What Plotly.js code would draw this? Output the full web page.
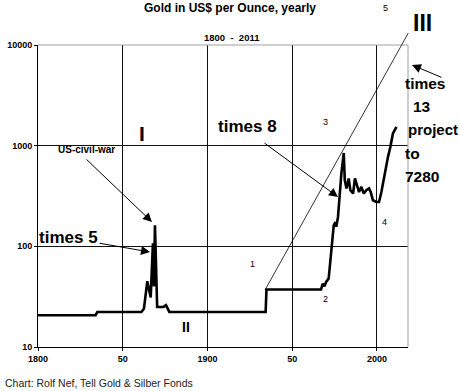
<!DOCTYPE html>
<html>
<head>
<meta charset="utf-8">
<script src="https://cdn.plot.ly/plotly-3.0.1.min.js"></script>
<style>html,body{margin:0;padding:0;background:#fff;}#chart{width:460px;height:391px;}</style>
</head>
<body>
<div id="chart"></div>
<script>
// ---- data ----
const years = [1800, 1834, 1835, 1861, 1862.5, 1864.5, 1866.5, 1867.8, 1868.4, 1869, 1870.3, 1874, 1875.5, 1877.5,
  1934.3, 1934.8, 1967, 1968, 1969, 1970, 1971.5, 1973, 1973.7, 1974.5, 1975.5, 1976, 1977, 1978, 1979, 1980.4,
  1981, 1982, 1983.3, 1984.3, 1985.9, 1987, 1988.2, 1989.4, 1990.8, 1992.2, 1993.7, 1995.3, 1996.3, 1997.6,
  1999.6, 2001.2, 2002.6, 2004.5, 2006.5, 2007.9, 2009.4, 2011.5];
const price = [20.7, 20.7, 22.3, 22.3, 24, 45, 31, 107, 40, 162, 25, 25, 26, 22.3,
  22.3, 37.3, 37.3, 42.6, 40, 44.3, 47.8, 91, 115, 162, 174, 156, 196, 335, 530, 847,
  454, 376, 472, 361, 335, 472, 390, 346, 390, 335, 361, 376, 346, 287,
  276, 276, 346, 530, 774, 973, 1321, 1538];
const xTickVals = [1800, 1850, 1900, 1950, 2000];
const xTickText = ['1800', '50', '1900', '50', '2000'];
const yTickVals = [10, 100, 1000, 10000];
const yTickText = ['10', '100', '1000', '10000'];

// ---- layout helpers (pixel -> paper) ----
const L = 38, R = 408, T = 45, B = 347;
const px = x => (x - L) / (R - L);
const py = y => (B - y) / (B - T);
const FONT = 'Liberation Sans, Arial, sans-serif';

function txt(text, x, y, size, bold, xanchor, color) {
  return {text: text, xref: 'paper', yref: 'paper', x: px(x), y: py(y), showarrow: false,
    xanchor: xanchor || 'center', yanchor: 'middle',
    font: {family: FONT, size: size, color: color || '#000', weight: bold ? 'bold' : 'normal'}};
}
function arrow(hx, hy, tx, ty) {
  return {text: '', xref: 'paper', yref: 'paper', x: px(hx), y: py(hy), ax: tx - hx, ay: ty - hy,
    showarrow: true, arrowhead: 2, arrowsize: 1.8, arrowwidth: 1, arrowcolor: '#000', standoff: 0};
}

const trace = {
  x: years, y: price, type: 'scatter', mode: 'lines',
  line: {color: '#000', width: 2.6, shape: 'linear'}, hoverinfo: 'skip'
};

const layout = {
  width: 460, height: 391,
  margin: {l: L, r: 460 - R, t: T, b: 391 - B},
  paper_bgcolor: '#fff', plot_bgcolor: '#fff',
  showlegend: false,
  title: {text: 'Gold in US$ per Ounce, yearly', xref: 'container', yref: 'container',
    x: 0.5, y: 1 - 8 / 391, xanchor: 'center', yanchor: 'middle',
    font: {family: FONT, size: 12, color: '#000', weight: 'bold'}},
  xaxis: {
    range: [1800, 2018.3], tickvals: xTickVals, ticktext: xTickText,
    ticks: 'outside', ticklen: 3, tickcolor: '#000', tickwidth: 1,
    showline: true, linecolor: '#000', linewidth: 1,
    showgrid: true, gridcolor: '#111', gridwidth: 1, zeroline: false,
    tickfont: {family: FONT, size: 9, color: '#000', weight: 'bold'}
  },
  yaxis: {
    type: 'log', range: [1, 4], tickvals: yTickVals, ticktext: yTickText,
    ticks: 'outside', ticklen: 3, tickcolor: '#000', tickwidth: 1,
    showline: true, linecolor: '#000', linewidth: 1,
    showgrid: true, gridcolor: '#111', gridwidth: 1, zeroline: false,
    tickfont: {family: FONT, size: 9, color: '#000', weight: 'bold'}
  },
  shapes: [
    {type: 'line', xref: 'paper', yref: 'paper', x0: 0, x1: 1, y0: 1, y1: 1, line: {color: '#a0a0a0', width: 1}, layer: 'above'},
    {type: 'line', xref: 'paper', yref: 'paper', x0: 1, x1: 1, y0: 0, y1: 1, line: {color: '#a0a0a0', width: 1}, layer: 'above'},
    {type: 'line', xref: 'paper', yref: 'paper', x0: px(265), y0: py(290), x1: px(408.3), y1: py(33), line: {color: '#000', width: 0.8}, layer: 'above'}
  ],
  annotations: [
    txt('1800  -  2011', 232, 37, 9.5, true),
    txt('5', 385, 8, 9, false),
    txt('III', 422, 23, 23, true),
    txt('I', 141.5, 133, 21, true),
    txt('II', 185.5, 327, 14, true),
    txt('US-civil-war', 86.5, 149, 10, true),
    txt('times 5', 68, 237, 17, true),
    txt('times 8', 247, 126, 17, true),
    txt('1', 252.7, 264, 9, false),
    txt('2', 325, 299, 9, false),
    txt('3', 325, 122, 9, false),
    txt('4', 384, 222, 9, false),
    txt('times', 403, 83, 15.5, true, 'left'),
    txt('13', 411, 106, 15.5, true, 'left'),
    txt('project', 406, 129, 15, true, 'left'),
    txt('to', 403, 153, 15.5, true, 'left'),
    txt('7280', 403, 176, 15.5, true, 'left'),
    txt('Chart: Rolf Nef, Tell Gold &amp; Silber Fonds', 3, 383, 10.5, false, 'left', '#222'),
    arrow(152, 222, 85, 158),
    arrow(150, 252, 98, 243),
    arrow(338, 197, 263, 142),
    arrow(412, 65, 443, 78)
  ]
};

Plotly.newPlot('chart', [trace], layout, {staticPlot: true, displayModeBar: false});
</script>
</body>
</html>
